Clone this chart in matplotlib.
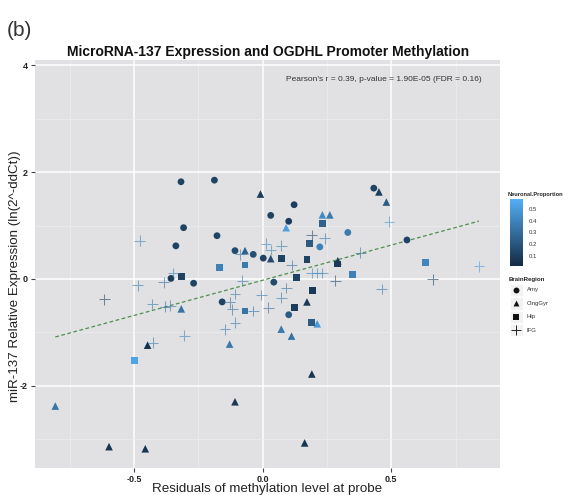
import numpy as np
import matplotlib
matplotlib.use("Agg")
import matplotlib.pyplot as plt
from matplotlib.colors import LinearSegmentedColormap
from matplotlib.patches import Rectangle

plt.rcParams.update({'font.family': ['Liberation Sans', 'DejaVu Sans']})

# residuals (x), expression (y) and neuronal proportion per region
amy_x = [-0.318, -0.188, -0.308, -0.178, -0.338, -0.357, -0.269, -0.158, 0.031, 0.122,
         0.101, -0.108, -0.037, 0.002, 0.222, 0.331, 0.432, 0.561, 0.043, 0.101]
amy_y = [1.82, 1.85, 0.96, 0.81, 0.62, 0.01, -0.08, -0.43, 1.19, 1.39,
         1.08, 0.53, 0.46, 0.39, 0.60, 0.87, 1.70, 0.73, -0.06, -0.67]
amy_np = [0.12, 0.12, 0.12, 0.12, 0.12, 0.10, 0.12, 0.12, 0.12, 0.10,
          0.10, 0.15, 0.18, 0.12, 0.38, 0.35, 0.12, 0.12, 0.15, 0.22]

cing_x = [-0.009, 0.091, 0.232, 0.261, -0.069, 0.031, 0.292, 0.452, 0.481, -0.317, -0.448,
          -0.129, -0.807, -0.108, -0.598, -0.457, 0.172, 0.072, 0.112, 0.212, 0.191, 0.163]
cing_y = [1.59, 0.96, 1.20, 1.20, 0.53, 0.38, 0.34, 1.63, 1.44, -0.56, -1.24,
          -1.22, -2.38, -2.30, -3.14, -3.18, -0.43, -0.94, -1.07, -0.84, -1.78, -3.07]
cing_np = [0.10, 0.50, 0.42, 0.35, 0.25, 0.15, 0.08, 0.10, 0.22, 0.32, 0.05,
           0.35, 0.33, 0.08, 0.06, 0.06, 0.08, 0.35, 0.32, 0.48, 0.06, 0.06]

hip_x = [-0.169, -0.069, -0.317, -0.069, -0.498, 0.072, 0.172, 0.182,
         0.232, 0.130, 0.292, 0.349, 0.632, 0.122, 0.193, 0.191]
hip_y = [0.22, 0.26, 0.05, -0.60, -1.52, 0.39, 0.36, 0.66,
         1.04, 0.03, 0.28, 0.09, 0.31, -0.54, -0.22, -0.82]
hip_np = [0.38, 0.35, 0.12, 0.33, 0.52, 0.12, 0.12, 0.22,
          0.25, 0.12, 0.08, 0.38, 0.40, 0.10, 0.08, 0.22]

ifg_x = [-0.478, -0.487, -0.616, -0.386, -0.348, 0.013, 0.031, -0.088, 0.072, 0.191,
         0.241, 0.112, 0.191, 0.212, 0.232, -0.080, 0.491, 0.380, 0.841, 0.661,
         0.463, 0.282, 0.092, 0.072, -0.006, 0.022, -0.037, -0.108, -0.129, -0.119,
         -0.108, -0.147, -0.429, -0.380, -0.360, -0.305, -0.427]
ifg_y = [0.72, -0.12, -0.38, -0.06, 0.11, 0.66, 0.54, 0.46, 0.62, 0.82,
         0.76, 0.26, 0.11, 0.11, 0.11, -0.03, 1.07, 0.49, 0.24, -0.01,
         -0.19, -0.03, -0.17, -0.35, -0.30, -0.54, -0.60, -0.28, -0.44, -0.57,
         -0.82, -0.94, -0.47, -0.52, -0.50, -1.06, -1.19]
ifg_np = [0.40, 0.35, 0.12, 0.30, 0.40, 0.40, 0.40, 0.35, 0.35, 0.15,
          0.35, 0.30, 0.40, 0.40, 0.40, 0.35, 0.45, 0.30, 0.50, 0.10,
          0.35, 0.15, 0.30, 0.35, 0.35, 0.30, 0.30, 0.35, 0.30, 0.30,
          0.35, 0.35, 0.35, 0.30, 0.35, 0.40, 0.35]

regions = ['Amy', 'CingGyr', 'Hip', 'IFG']
stats_text = "Pearson's r = 0.39, p-value = 1.90E-05 (FDR = 0.16)"

cmap = LinearSegmentedColormap.from_list('gg', ['#132B43', '#56B1F7'])
vmin, vmax = 0.02, 0.58

W, H = 563, 495
fig = plt.figure(figsize=(W / 100, H / 100), dpi=100)

def fx(px):
    return px / W

def fy(py):
    return 1 - py / H

ax = fig.add_axes([fx(35), fy(468), fx(500) - fx(35), fy(60) - fy(468)])
ax.set_facecolor('#E1E1E3')
for s in ax.spines.values():
    s.set_visible(False)

ax.set_xlim(-0.886, 0.923)
ax.set_ylim(-3.54, 4.10)
ax.set_xticks([-0.5, 0.0, 0.5])
ax.set_xticklabels(['-0.5', '0.0', '0.5'])
ax.set_yticks([-2, 0, 2, 4])
ax.set_yticklabels(['-2', '0', '2', '4'])
ax.set_xticks([-0.75, -0.25, 0.25, 0.75], minor=True)
ax.set_yticks([-3, -1, 1, 3], minor=True)
ax.grid(which='major', color='white', lw=1.1)
ax.grid(which='minor', color='#EDEDEE', lw=0.5)
ax.set_axisbelow(True)
ax.tick_params(which='major', length=3, color='#444444', labelsize=6.5, pad=2,
               labelcolor='#222222')
ax.tick_params(which='minor', length=0)
for lab in ax.get_xticklabels() + ax.get_yticklabels():
    lab.set_fontweight('bold')

kw = dict(cmap=cmap, vmin=vmin, vmax=vmax, zorder=3)
ax.scatter(amy_x, amy_y, c=amy_np, marker='o', s=24, linewidths=0, **kw)
ax.scatter(cing_x, cing_y, c=cing_np, marker='^', s=30, linewidths=0, **kw)
ax.scatter(hip_x, hip_y, c=hip_np, marker='s', s=24, linewidths=0, **kw)
ax.scatter(ifg_x, ifg_y, c=ifg_np, marker='+', s=60, linewidths=0.75, alpha=0.6, **kw)

# linear fit over all samples
all_x = np.array(amy_x + cing_x + hip_x + ifg_x)
all_y = np.array(amy_y + cing_y + hip_y + ifg_y)
slope, icpt = np.polyfit(all_x, all_y, 1)
xs = np.array([all_x.min(), all_x.max()])
ax.plot(xs, icpt + slope * xs, ls=(0, (3, 2)), color='#4E8F4E', lw=0.9, zorder=2)

ax.text(0.96, 0.952, stats_text, transform=ax.transAxes, ha='right', va='center',
        fontsize=6.0, color='#333333')

ax.set_xlabel('Residuals of methylation level at probe', fontsize=9.6, color='#222222',
              labelpad=-1)
ax.set_ylabel('miR-137 Relative Expression (ln(2^-ddCt))', fontsize=9.6,
              color='#222222')
ax.yaxis.set_label_coords(-0.03, 0.47)

fig.text(fx(268), fy(52), 'MicroRNA-137 Expression and OGDHL Promoter Methylation',
         ha='center', va='center', fontsize=10.0, fontweight='bold', color='#111111')
fig.text(fx(7), fy(30), '(b)', ha='left', va='center', fontsize=15, color='#333333')

# colour bar
cax = fig.add_axes([fx(510), fy(266), fx(523) - fx(510), fy(199) - fy(266)])
grad = np.linspace(vmin, vmax, 200).reshape(-1, 1)
cax.imshow(grad, aspect='auto', cmap=cmap, vmin=vmin, vmax=vmax, origin='lower',
           extent=[0, 1, vmin, vmax])
cax.set_xticks([])
cax.yaxis.tick_right()
cax.set_yticks([0.1, 0.2, 0.3, 0.4, 0.5])
cax.set_yticklabels(['0.1', '0.2', '0.3', '0.4', '0.5'])
cax.tick_params(axis='y', length=2, color='white', labelsize=4.3, pad=2,
                labelcolor='#333333')
for s in cax.spines.values():
    s.set_visible(False)
fig.text(fx(508), fy(194), 'Neuronal.Proportion', fontsize=4.1, fontweight='bold',
         ha='left', va='center', color='#222222')

# shape legend
lax = fig.add_axes([0, 0, 1, 1], facecolor='none')
lax.set_xlim(0, W)
lax.set_ylim(H, 0)
lax.axis('off')
lax.text(509, 279, 'BrainRegion', fontsize=4.4, fontweight='bold', ha='left',
         va='center', color='#222222')
shapes = ['o', '^', 's', '+']
for i, (name, m) in enumerate(zip(regions, shapes)):
    yc = 290 + i * 13.4
    lax.add_patch(Rectangle((509.5, yc - 6.2), 13, 12.4, facecolor='#F2F2F2',
                            edgecolor='white', lw=0.6))
    if m == '+':
        lax.scatter([516], [yc], marker=m, s=50, color='#222222', linewidths=0.7)
    else:
        lax.scatter([516], [yc], marker=m, s=18, color='#111111', linewidths=0)
    lax.text(526.5, yc, name, fontsize=4.3, ha='left', va='center', color='#333333')

fig.savefig('out.png', dpi=100)
